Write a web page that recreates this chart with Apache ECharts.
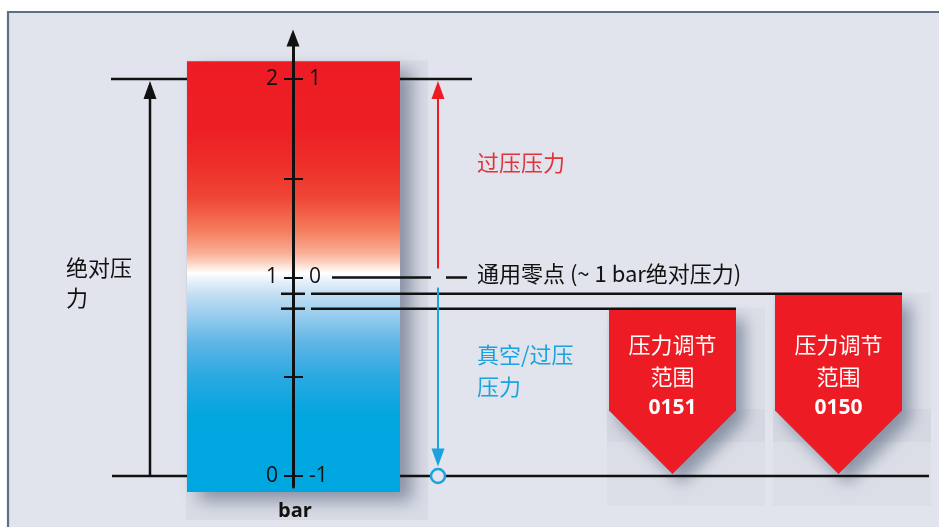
<!DOCTYPE html>
<html><head><meta charset="utf-8">
<script src="https://cdn.jsdelivr.net/npm/echarts@6/dist/echarts.min.js"></script>
<style>html,body{margin:0;padding:0;background:#fff}#c{width:939px;height:527px}</style>
</head><body><div id="c"></div>
<script>
// ---------- data (bar, absolute pressure) ----------
const absTicks = [0, 0.5, 1, 1.5, 2];
const absLabels = [0, 1, 2];
const gaugeTicks = [-1, -0.5, 0, 0.5, 1];
const gaugeLabels = [-1, 0, 1];
const vacuumLevel = 0;
const zeroPointLevel = 1;          // 通用零点 (~1 bar abs)
const fullScaleLevel = 2;
const scaleBarExtent = [-0.08, 2.09];
const rangeNames = ['0151', '0150'];
const rangeUpper = [0.843, 0.918];
const rangeLower = [0, 0];

// ---------- texts ----------
const txtOver = '过压压力';
const txtVac = ['真空/过压', '压力'];
const txtAbs = ['绝对压', '力'];
const txtZero = '通用零点 (~ 1 bar绝对压力)';
const txtUnit = 'bar';
const txtRange = ['压力调节', '范围'];

// ---------- layout (pixels, styles) ----------
const L = {
  gridTop: 38, gridBottom: 40, axisX: 293, xMax: 939,
  yMin: -0.0554, yMax: 2.2066,
  barX: [187, 400], barBoxX: [186, 428], barBoxPadTop: 1, barBoxPadBottom: 28,
  absArrowX: 150, sideArrowX: 438, headW: 13, headH: 18, arrowGap: 9,
  topLine: [[111, 187], [400, 472]],
  baseLine: [[112, 187], [400, 929]],
  zeroLine: [[332, 431], [446, 467]],
  rangeStub: [281, 305], rangeLineX0: 311, rangeLineX1: [736, 902],
  rangeX: [[609, 736], [775, 902]],
  rangeBoxX: [[607, 765], [773, 931]],
  rangeBoxBottom: 506, bandY: [409, 442],
  lineW: 2.5
};
const BG = '#e1e4ec', BLACK = '#111111', RED = '#ed1c24', BLUE = '#1aa3de';
const CJK = '"Noto Sans CJK SC","Noto Sans",sans-serif';
const LAT = '"Open Sans","Noto Sans",sans-serif';
const axisRich = {t: {fontSize: 21, fontFamily: 'Open Sans', color: BLACK, lineHeight: 24}};

const chart = echarts.init(document.getElementById('c'));

function seg(api, x0, x1, v, dy, color, w) {
  const p = api.coord([x0, v]);
  const q = api.coord([x1, v]);
  return {type: 'line', shape: {x1: p[0], y1: p[1] + (dy || 0), x2: q[0], y2: q[1] + (dy || 0)},
    style: {stroke: color || BLACK, lineWidth: w || L.lineW}};
}

const barGradient = new echarts.graphic.LinearGradient(0, 0, 0, 1, [
  {offset: 0, color: '#ed1c24'}, {offset: 0.16, color: '#ed1f24'},
  {offset: 0.237, color: '#ee2e2a'}, {offset: 0.316, color: '#ef4535'},
  {offset: 0.392, color: '#f47c5c'}, {offset: 0.445, color: '#f8ae95'},
  {offset: 0.469, color: '#fcd5c5'}, {offset: 0.492, color: '#ffffff'},
  {offset: 0.515, color: '#e0edf9'}, {offset: 0.548, color: '#bcdcf2'},
  {offset: 0.594, color: '#95cbed'}, {offset: 0.654, color: '#5fb5e6'},
  {offset: 0.733, color: '#2aa9e2'}, {offset: 0.794, color: '#0ea6df'},
  {offset: 0.833, color: '#00a6df'}, {offset: 1, color: '#00a6df'}
]);

const option = {
  animation: false,
  backgroundColor: '#ffffff',
  graphic: [
    {type: 'rect', z: -10, shape: {x: 8, y: 12, width: 960, height: 540},
     style: {fill: BG, stroke: '#5e7182', lineWidth: 2.2}},
    {type: 'text', z: 20, x: 66, y: 268, style: {text: txtAbs[0], font: '22px ' + CJK, fill: BLACK, verticalAlign: 'middle'}},
    {type: 'text', z: 20, x: 66, y: 298, style: {text: txtAbs[1], font: '22px ' + CJK, fill: BLACK, verticalAlign: 'middle'}},
    {type: 'text', z: 20, x: 477, y: 163, style: {text: txtOver, font: '22px ' + CJK, fill: '#e3333a', verticalAlign: 'middle'}},
    {type: 'text', z: 20, x: 477, y: 355, style: {text: txtVac[0], font: '22px ' + CJK, fill: BLUE, verticalAlign: 'middle'}},
    {type: 'text', z: 20, x: 477, y: 387, style: {text: txtVac[1], font: '22px ' + CJK, fill: BLUE, verticalAlign: 'middle'}},
    {type: 'text', z: 20, x: 477, y: 274, style: {text: txtZero, font: '22px ' + CJK, fill: BLACK, verticalAlign: 'middle'}},
    {type: 'text', z: 20, x: 295, y: 511, style: {text: txtUnit, font: 'bold 20px ' + LAT, fill: BLACK, align: 'center', verticalAlign: 'middle'}}
  ],
  grid: {left: L.axisX, right: 0, top: L.gridTop, bottom: L.gridBottom, containLabel: false},
  xAxis: {type: 'value', min: L.axisX, max: L.xMax, show: false},
  yAxis: [
    {type: 'value', min: L.yMin, max: L.yMax, position: 'left', offset: 0, z: 10,
     axisLine: {show: true, symbol: ['none', 'triangle'], symbolSize: [13, 17], lineStyle: {color: BLACK, width: 3}},
     axisTick: {show: true, customValues: absTicks, length: 9, lineStyle: {color: BLACK, width: 2}},
     axisLabel: {show: true, customValues: absLabels, margin: 15, fontSize: 21, color: BLACK, fontFamily: 'Open Sans',
                 formatter: v => '{t|' + v + '}', rich: axisRich},
     splitLine: {show: false}},
    {type: 'value', min: L.yMin - 1, max: L.yMax - 1, position: 'left', offset: 0, z: 10,
     axisLine: {show: false},
     axisTick: {show: true, inside: true, customValues: gaugeTicks, length: 10, lineStyle: {color: BLACK, width: 2}},
     axisLabel: {show: true, inside: true, customValues: gaugeLabels, margin: 16, fontSize: 21, color: BLACK, fontFamily: 'Open Sans',
                 formatter: v => '{t|' + v + '}', rich: axisRich},
     splitLine: {show: false}}
  ],
  series: [
    // scale bar with gradient
    {type: 'custom', clip: false, z: 2, silent: true, data: [scaleBarExtent],
     renderItem(params, api) {
       const tl = api.coord([L.barX[0], api.value(1)]);
       const br = api.coord([L.barX[1], api.value(0)]);
       const bl = api.coord([L.barBoxX[0], api.value(1)]);
       const bbr = api.coord([L.barBoxX[1], api.value(0)]);
       return {type: 'group', children: [
         {type: 'rect', shape: {x: bl[0], y: bl[1] - L.barBoxPadTop, width: bbr[0] - bl[0], height: bbr[1] - bl[1] + L.barBoxPadTop + L.barBoxPadBottom},
          style: {fill: 'rgba(150,158,178,0.10)'}},
         {type: 'rect', shape: {x: tl[0], y: tl[1], width: br[0] - tl[0], height: br[1] - tl[1]},
          style: {fill: barGradient, shadowBlur: 16, shadowOffsetX: 12, shadowOffsetY: 9, shadowColor: 'rgba(60,72,100,0.5)'}}
       ]};
     }},
    // regulating ranges (pentagons)
    {type: 'custom', clip: false, z: 3, silent: true,
     data: rangeNames.map((n, i) => [i, rangeUpper[i], rangeLower[i]]),
     renderItem(params, api) {
       const i = api.value(0);
       const x = L.rangeX[i], bx = L.rangeBoxX[i];
       const top = api.coord([x[0], api.value(1)]);
       const tip = api.coord([(x[0] + x[1]) / 2, api.value(2)]);
       const tipY = tip[1] - 2;
       const half = (x[1] - x[0]) / 2;
       const rectBottom = tipY - half;
       const cx = tip[0];
       return {type: 'group', children: [
         {type: 'rect', shape: {x: bx[0], y: top[1] - 1, width: bx[1] - bx[0], height: L.rangeBoxBottom - top[1] + 1}, style: {fill: 'rgba(150,158,178,0.08)'}},
         {type: 'rect', shape: {x: bx[0], y: L.bandY[0], width: bx[1] - bx[0], height: L.bandY[1] - L.bandY[0]}, style: {fill: 'rgba(150,158,178,0.08)'}},
         {type: 'polygon', shape: {points: [[x[0], top[1]], [x[1], top[1]], [x[1], rectBottom], [cx, tipY], [x[0], rectBottom]]},
          style: {fill: RED, shadowBlur: 16, shadowOffsetX: 9, shadowOffsetY: 10, shadowColor: 'rgba(60,75,105,0.5)'}},
         {type: 'text', x: cx, y: tipY - 129, style: {text: txtRange[0], font: '22px ' + CJK, fill: '#ffffff', align: 'center', verticalAlign: 'middle'}},
         {type: 'text', x: cx, y: tipY - 97, style: {text: txtRange[1], font: '22px ' + CJK, fill: '#ffffff', align: 'center', verticalAlign: 'middle'}},
         {type: 'text', x: cx, y: tipY - 66, style: {text: rangeNames[i], font: 'bold 21px ' + LAT, fill: '#ffffff', align: 'center', verticalAlign: 'middle'}}
       ]};
     }},
    // guide lines & arrows
    {type: 'custom', clip: false, z: 4, silent: true, data: [[fullScaleLevel, zeroPointLevel, vacuumLevel]],
     renderItem(params, api) {
       const full = api.value(0), zero = api.value(1), vac = api.value(2);
       const ch = [];
       L.topLine.forEach(s => ch.push(seg(api, s[0], s[1], full)));
       L.baseLine.forEach(s => ch.push(seg(api, s[0], s[1], vac)));
       L.zeroLine.forEach(s => ch.push(seg(api, s[0], s[1], zero)));
       rangeUpper.forEach((v, i) => {
         ch.push(seg(api, L.rangeStub[0], L.rangeStub[1], v));
         ch.push(seg(api, L.rangeLineX0, L.rangeLineX1[i], v));
       });
       // absolute pressure arrow (black)
       const a0 = api.coord([L.absArrowX, vac]);
       const a1 = api.coord([L.absArrowX, full]);
       const aTip = a1[1] + 2;
       ch.push({type: 'line', shape: {x1: a0[0], y1: a0[1], x2: a0[0], y2: aTip + L.headH - 2}, style: {stroke: BLACK, lineWidth: L.lineW}});
       ch.push({type: 'polygon', shape: {points: [[a0[0], aTip], [a0[0] - L.headW / 2, aTip + L.headH], [a0[0] + L.headW / 2, aTip + L.headH]]}, style: {fill: BLACK}});
       // over-pressure arrow (red)
       const z0 = api.coord([L.sideArrowX, zero]);
       const r1 = api.coord([L.sideArrowX, full]);
       const rTip = r1[1] + 2;
       ch.push({type: 'line', shape: {x1: z0[0], y1: z0[1] - L.arrowGap, x2: z0[0], y2: rTip + L.headH - 2}, style: {stroke: RED, lineWidth: 2}});
       ch.push({type: 'polygon', shape: {points: [[z0[0], rTip], [z0[0] - L.headW / 2, rTip + L.headH], [z0[0] + L.headW / 2, rTip + L.headH]]}, style: {fill: RED}});
       // vacuum arrow (blue)
       const v1 = api.coord([L.sideArrowX, vac]);
       const r = 7;
       const bTip = v1[1] - r - 2.5;
       ch.push({type: 'line', shape: {x1: z0[0], y1: z0[1] + L.arrowGap + 1, x2: z0[0], y2: bTip - L.headH + 2}, style: {stroke: BLUE, lineWidth: 2}});
       ch.push({type: 'polygon', shape: {points: [[z0[0], bTip], [z0[0] - L.headW / 2, bTip - L.headH], [z0[0] + L.headW / 2, bTip - L.headH]]}, style: {fill: BLUE}});
       ch.push({type: 'circle', shape: {cx: v1[0], cy: v1[1], r: r}, style: {fill: BG, stroke: BLUE, lineWidth: 2.5}});
       return {type: 'group', children: ch};
     }}
  ]
};
chart.setOption(option);
</script>
</body></html>
